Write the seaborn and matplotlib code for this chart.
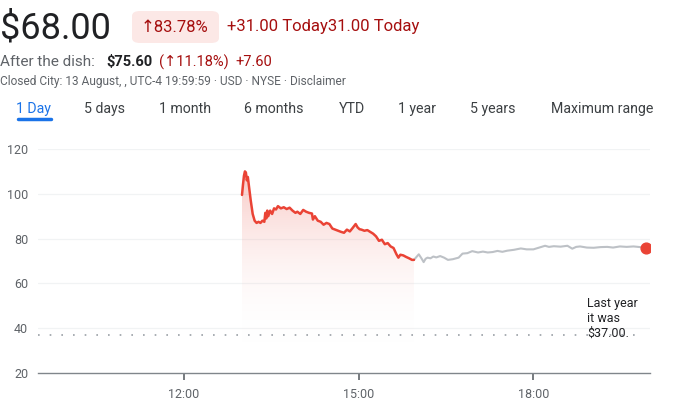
import numpy as np
import pandas as pd
import matplotlib
matplotlib.use("Agg")
import matplotlib.pyplot as plt
import matplotlib.dates as mdates
from matplotlib.patches import FancyBboxPatch
from matplotlib.lines import Line2D
import seaborn as sns

# price during the session (red) and after hours (gray)
red_times = ["13:00", "13:01", "13:02", "13:03", "13:04", "13:05", "13:06", "13:07", "13:09", "13:11",
             "13:13", "13:15", "13:17", "13:19", "13:21", "13:23", "13:24", "13:25", "13:26", "13:27",
             "13:29", "13:31", "13:33", "13:35", "13:37", "13:40", "13:43", "13:46", "13:49", "13:52",
             "13:55", "13:57", "14:00", "14:03", "14:06", "14:09", "14:12", "14:13", "14:15", "14:18",
             "14:21", "14:24", "14:27", "14:30", "14:33", "14:36", "14:39", "14:42", "14:45", "14:48",
             "14:51", "14:54", "14:57", "14:59", "15:01", "15:03", "15:06", "15:09", "15:12", "15:15",
             "15:18", "15:21", "15:24", "15:27", "15:30", "15:33", "15:36", "15:39", "15:41", "15:43",
             "15:46", "15:49", "15:52", "15:55", "15:57"]
red_prices = [99.5, 104, 108, 110, 109.5, 106, 107.5, 104, 97, 91,
              88, 87, 87.5, 87, 88, 87.5, 91.5, 89, 92.5, 90,
              92.5, 91, 93.5, 93, 94.5, 93.5, 94, 93.2, 93.8, 92.5,
              91.5, 92, 91, 92.8, 92, 91.5, 91.2, 88.5, 90, 88,
              87.5, 86.2, 87, 86.5, 84.5, 84, 83.5, 83, 82.6, 84,
              83.2, 84.8, 86.5, 85, 84.2, 84, 83.5, 83.8, 83, 82.2,
              81, 79, 79.5, 77.5, 78, 76.5, 75.8, 73, 71.5, 72.8,
              72.5, 71.8, 71.2, 70.5, 70.5]

gray_times = ["15:57", "15:59", "16:02", "16:05", "16:07", "16:09", "16:11", "16:14", "16:17", "16:20",
              "16:24", "16:28", "16:32", "16:37", "16:43", "16:47", "16:52", "16:57", "17:03", "17:08",
              "17:13", "17:18", "17:23", "17:28", "17:33", "17:40", "17:47", "17:53", "18:00", "18:06",
              "18:12", "18:16", "18:21", "18:28", "18:35", "18:40", "18:44", "18:48", "18:55", "19:02",
              "19:09", "19:16", "19:22", "19:29", "19:36", "19:43", "19:50", "19:56"]
gray_prices = [70.5, 71.5, 73, 71, 69.5, 71, 71.5, 71.2, 72, 71.6,
               72.2, 71.5, 70.5, 70.8, 71.5, 73.3, 73.5, 74.4, 73.8, 74.2,
               73.8, 74, 74.5, 74.1, 74.6, 75, 75.6, 75.2, 75.2, 76,
               76.8, 76.3, 76.6, 76.4, 76.8, 75.5, 76.3, 76.5, 76, 75.9,
               76.2, 76.3, 76, 76.5, 76.3, 76.5, 76.2, 75.6]

last_year_price = 37.0
y_ticks = [20, 40, 60, 80, 100, 120]
x_ticks = ["12:00", "15:00", "18:00"]
tabs = ["1 Day", "5 days", "1 month", "6 months", "YTD", "1 year", "5 years", "Maximum range"]

day = "2024-08-13 "
red = pd.DataFrame({"time": pd.to_datetime([day + t for t in red_times]), "price": red_prices})
gray = pd.DataFrame({"time": pd.to_datetime([day + t for t in gray_times]), "price": gray_prices})

sns.set_theme(style="white")
plt.rcParams["font.family"] = ["Roboto", "DejaVu Sans"]

RED = "#ea4335"
DARK_RED = "#a50e0e"
GRAY_TXT = "#5f6368"

W, H = 680, 415
fig = plt.figure(figsize=(6.8, 4.15), dpi=100)
ax = fig.add_axes([38 / W, 1 - 373 / H, 612 / W, 224 / H])


def fx(x):
    return x / W


def fy(y):
    return 1 - y / H


# header
fig.text(fx(0), fy(28), "$68.00", fontsize=26, color="#202124", va="center", ha="left")
badge = FancyBboxPatch((fx(132), fy(43)), fx(87), 32 / H, boxstyle="round,pad=0,rounding_size=0.012",
                       transform=fig.transFigure, facecolor="#fce8e6", edgecolor="none")
fig.add_artist(badge)
fig.text(fx(175), fy(27), "↑83.78%", fontsize=12, color=DARK_RED, va="center", ha="center")
fig.text(fx(227), fy(27), "+31.00 Today31.00 Today", fontsize=12, color=DARK_RED, va="center", ha="left")

fig.text(fx(0), fy(62), "After the dish:", fontsize=11, color=GRAY_TXT, va="center")
fig.text(fx(106), fy(62), "$75.60", fontsize=10.5, color="#202124", fontweight="bold", va="center")
fig.text(fx(159), fy(62), "(↑11.18%)", fontsize=10.5, color=DARK_RED, va="center")
fig.text(fx(235), fy(62), "+7.60", fontsize=10.5, color=DARK_RED, va="center")
fig.text(fx(0), fy(81), "Closed City: 13 August, , UTC-4 19:59:59 · USD · NYSE · Disclaimer",
         fontsize=8.6, color=GRAY_TXT, va="center")

tab_x = [16, 84, 159, 244, 339, 398, 470, 551]
for label, x in zip(tabs, tab_x):
    c = "#1a73e8" if label == "1 Day" else "#3c4043"
    fig.text(fx(x), fy(109), label, fontsize=10.2, color=c, va="center")
fig.add_artist(Line2D([fx(18), fx(51)], [fy(119), fy(119)], transform=fig.transFigure,
                      color="#1a73e8", linewidth=2.5, solid_capstyle="round"))

# gradient fill under the session line
line_x = mdates.date2num(red["time"])
fill = ax.fill_between(red["time"], red["price"], 33, color="none", linewidth=0)
grad = np.linspace(0.0, 1.0, 256).reshape(-1, 1)
cmap = matplotlib.colors.LinearSegmentedColormap.from_list(
    "g", [(1, 1, 1, 0), (0.93, 0.42, 0.38, 0.38)])
img = ax.imshow(grad, cmap=cmap, aspect="auto", origin="lower",
                extent=[line_x.min(), line_x.max(), 33, 111], zorder=1)
img.set_clip_path(fill.get_paths()[0], transform=ax.transData)

sns.lineplot(data=gray, x="time", y="price", ax=ax, color="#bdc1c6", linewidth=1.5, zorder=3)
sns.lineplot(data=red, x="time", y="price", ax=ax, color=RED, linewidth=1.8, zorder=4)
ax.scatter(gray["time"].iloc[-1], gray["price"].iloc[-1], s=60, color=RED, zorder=5)

ax.axhline(last_year_price, color="#9aa0a6", linewidth=1.2, linestyle=(0, (1, 6)), zorder=2,
           xmax=0.99)
ax.text(pd.Timestamp(day + "18:55"), 34.6, "Last year\nit was\n$37.00.", fontsize=9,
        color="#202124", va="bottom", ha="left", linespacing=1.2, zorder=6)

for v in y_ticks[1:]:
    ax.axhline(v, color="#f1f3f4", linewidth=0.9, zorder=0)

ax.set_xlim(pd.Timestamp(day + "09:30"), pd.Timestamp(day + "20:00"))
ax.set_ylim(20, 120)
ax.set_yticks(y_ticks)
ax.set_xticks(pd.to_datetime([day + t for t in x_ticks]))
ax.xaxis.set_major_formatter(mdates.DateFormatter("%H:%M"))
ax.set_xlabel("")
ax.set_ylabel("")
for s in ["top", "right", "left"]:
    ax.spines[s].set_visible(False)
ax.spines["bottom"].set_color("#80868b")
ax.spines["bottom"].set_linewidth(1.0)
ax.tick_params(axis="x", bottom=True, length=5, width=1.2, color="#5f6368", labelsize=9,
               labelcolor=GRAY_TXT, pad=6)
ax.tick_params(axis="y", left=False, length=0, labelsize=9, labelcolor=GRAY_TXT, pad=7)
ax.grid(False)

fig.savefig("out.png", dpi=100)
